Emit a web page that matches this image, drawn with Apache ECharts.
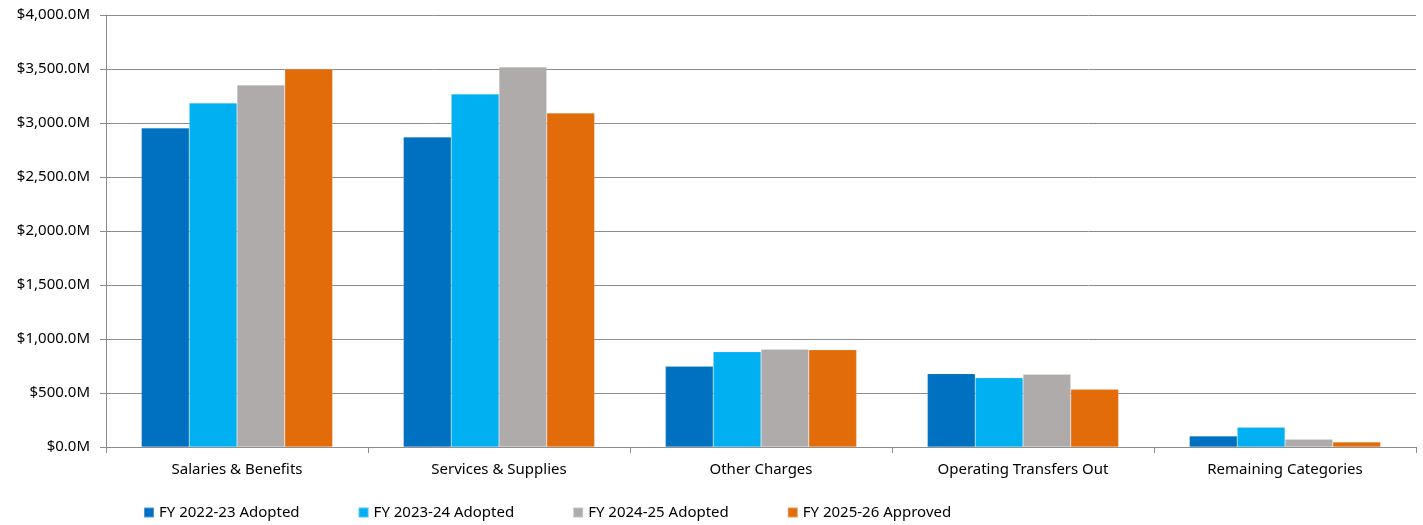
<!DOCTYPE html>
<html><head><meta charset="utf-8">
<script src="https://cdn.jsdelivr.net/npm/echarts@6/dist/echarts.min.js"></script>
<style>html,body{margin:0;padding:0;background:#fff}#c{width:1423px;height:525px}</style>
</head><body><div id="c"></div>
<script>
const categories = ['Salaries & Benefits','Services & Supplies','Other Charges','Operating Transfers Out','Remaining Categories'];
const seriesNames = ['FY 2022-23 Adopted','FY 2023-24 Adopted','FY 2024-25 Adopted','FY 2025-26 Approved'];
const fy2223 = [2954, 2870, 747, 679, 102];
const fy2324 = [3185, 3268, 882, 642, 182];
const fy2425 = [3352, 3518, 905, 673, 71];
const fy2526 = [3500, 3093, 901, 534, 46];
const colors = ['#0070C0','#00B0F0','#AFABAB','#E36C0A'];
const allData = [fy2223, fy2324, fy2425, fy2526];
const font = 'Noto Sans, sans-serif';
const chart = echarts.init(document.getElementById('c'));
chart.setOption({
  animation:false,
  color: colors,
  grid:{left:106,right:7,top:15,bottom:78,containLabel:false},
  legend:{
    bottom:0,left:138,itemGap:58,itemWidth:10,itemHeight:10,icon:'rect',
    textStyle:{fontFamily:font,fontSize:15,color:'#000'},
    data:seriesNames
  },
  xAxis:{
    type:'category',data:categories,
    axisLine:{lineStyle:{color:'#8c8c8c',width:1}},
    axisTick:{show:true,length:6,lineStyle:{color:'#8c8c8c'}},
    axisLabel:{fontFamily:font,fontSize:15,color:'#000',margin:15}
  },
  yAxis:{
    type:'value',min:0,max:4000,interval:500,
    axisLine:{show:true,lineStyle:{color:'#8c8c8c'}},
    axisTick:{show:true,length:6,lineStyle:{color:'#8c8c8c'}},
    splitLine:{lineStyle:{color:'#8c8c8c',width:1}},
    axisLabel:{fontFamily:font,fontSize:15,color:'#000',margin:16,
      formatter:v=>'$'+v.toLocaleString('en-US',{minimumFractionDigits:1,maximumFractionDigits:1})+'M'}
  },
  series: seriesNames.map((n,i)=>({
    name:n,type:'bar',data:allData[i],barGap:'0%',barCategoryGap:'27%',
    itemStyle:{color:colors[i],borderColor:'rgba(255,255,255,0.3)',borderWidth:0.5}
  }))
});
</script></body></html>
